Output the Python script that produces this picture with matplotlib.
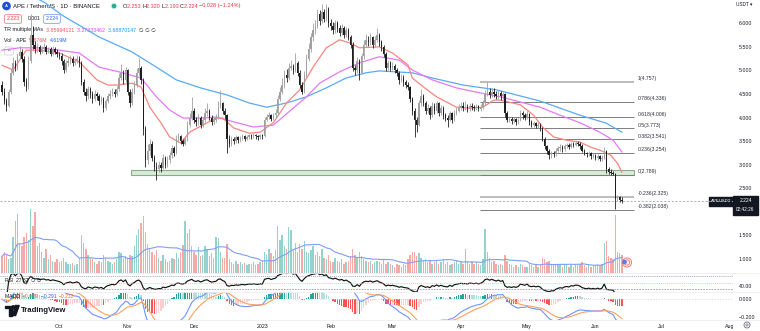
import numpy as np
import pandas as pd
import matplotlib
matplotlib.use("Agg")
import matplotlib.pyplot as plt
from matplotlib.patches import Rectangle, Circle, Polygon, FancyBboxPatch
from matplotlib.ticker import FuncFormatter

plt.rcParams['font.family'] = ['Liberation Sans', 'DejaVu Sans']

# ---------------- APE / USDT daily candles, 2022-09-05 .. 2023-06-13 ----------------
first_open = 4.70
closes = [
    # Sep 2022
    4.55, 4.35, 4.25, 4.55, 4.95, 5.15, 5.05, 5.30, 5.40, 5.25, 4.75, 4.65, 5.20, 5.75, 5.55, 5.45, 5.50, 5.40, 5.45, 5.50, 5.40, 5.45, 5.35, 5.45, 5.40, 5.35,
    # Oct
    5.30, 5.20, 5.00, 5.15, 5.20, 5.25, 5.15, 5.20, 5.25, 5.15, 4.75, 4.55, 4.45, 4.60, 4.50, 4.40, 4.50, 4.45, 4.35, 4.40, 4.20, 4.35, 4.45, 4.50, 4.55, 4.50, 4.60, 4.85, 4.95, 4.80, 5.00,
    # Nov
    4.55, 4.30, 4.55, 4.70, 4.95, 5.05, 4.80, 3.75, 3.10, 3.30, 3.45, 3.15, 2.95, 2.90, 3.00, 2.92, 3.15, 3.00, 3.10, 3.20, 3.35, 3.25, 3.55, 3.60, 3.50, 3.45, 3.55, 3.85, 4.00, 4.15,
    # Dec
    3.95, 3.90, 4.00, 3.85, 3.95, 4.10, 4.15, 4.00, 3.90, 3.95, 4.00, 4.25, 4.30, 4.15, 4.05, 3.55, 3.45, 3.55, 3.50, 3.58, 3.52, 3.56, 3.60, 3.55, 3.58, 3.62, 3.60, 3.63, 3.60, 3.58, 3.62,
    # Jan 2023
    3.60, 3.95, 4.02, 4.05, 3.98, 4.05, 4.10, 4.40, 4.55, 4.70, 4.90, 4.85, 5.05, 5.10, 5.00, 5.15, 4.95, 4.70, 4.55, 4.90, 5.25, 5.45, 5.70, 5.85, 5.95, 6.20, 6.05, 6.25, 6.10, 6.30, 6.00,
    # Feb
    5.95, 5.85, 6.00, 5.90, 5.80, 5.90, 5.75, 5.85, 5.70, 5.55, 5.05, 5.00, 5.20, 4.95, 5.30, 5.55, 5.65, 5.60, 5.70, 5.55, 5.65, 5.75, 5.60, 5.50, 5.35, 5.05, 5.15, 5.05,
    # Mar
    5.10, 5.00, 4.95, 4.80, 4.85, 4.75, 4.70, 4.65, 4.40, 4.15, 3.95, 3.85, 4.30, 4.45, 4.30, 4.15, 4.20, 4.05, 4.25, 4.15, 4.30, 4.10, 4.20, 4.05, 4.00, 3.95, 4.10, 3.95, 4.10, 4.15, 4.20,
    # Apr
    4.25, 4.20, 4.22, 4.18, 4.25, 4.22, 4.20, 4.24, 4.18, 4.22, 4.30, 4.50, 4.55, 4.48, 4.55, 4.50, 4.45, 4.52, 4.45, 4.50, 4.10, 3.95, 3.98, 3.92, 3.96, 3.90, 3.95, 4.10, 4.05, 4.00,
    # May
    4.08, 3.90, 3.85, 3.88, 3.82, 3.85, 3.78, 3.55, 3.40, 3.30, 3.20, 3.25, 3.22, 3.30, 3.35, 3.38, 3.34, 3.40, 3.42, 3.38, 3.44, 3.42, 3.46, 3.45, 3.40, 3.30, 3.25, 3.22, 3.24, 3.18, 3.20,
    # Jun
    3.15, 3.18, 3.12, 3.15, 3.30, 2.90, 2.85, 2.82, 2.80, 2.28, 2.31, 2.253, 2.224,
]
highs = [
    4.78, 4.62, 4.42, 4.60, 5.02, 5.28, 5.22, 5.38, 5.52, 5.45, 5.30, 4.85, 5.30, 6.20, 5.95, 5.62, 5.58, 5.55, 5.52, 5.58, 5.54, 5.50, 5.50, 5.52, 5.50, 5.46,
    5.40, 5.36, 5.25, 5.22, 5.28, 5.32, 5.30, 5.27, 5.33, 5.30, 5.20, 4.82, 4.62, 4.68, 4.65, 4.56, 4.58, 4.55, 4.50, 4.46, 4.44, 4.40, 4.52, 4.58, 4.62, 4.60, 4.68, 4.95, 5.13, 5.00, 5.08,
    5.04, 4.60, 4.62, 4.78, 5.05, 5.26, 5.10, 4.85, 3.82, 3.45, 3.55, 3.50, 3.20, 3.05, 3.08, 3.05, 3.22, 3.18, 3.18, 3.28, 3.42, 3.40, 3.62, 3.68, 3.64, 3.55, 3.60, 3.92, 4.10, 4.43,
    4.20, 4.02, 4.08, 4.04, 4.02, 4.20, 4.30, 4.18, 4.05, 4.02, 4.08, 4.35, 4.58, 4.34, 4.20, 4.08, 3.62, 3.60, 3.58, 3.63, 3.61, 3.60, 3.65, 3.63, 3.62, 3.66, 3.65, 3.67, 3.66, 3.63, 3.66,
    3.66, 4.02, 4.08, 4.12, 4.08, 4.10, 4.18, 4.48, 4.65, 4.85, 5.00, 5.02, 5.15, 5.22, 5.14, 5.36, 5.20, 5.00, 4.75, 4.98, 5.35, 5.58, 5.80, 6.00, 6.08, 6.30, 6.28, 6.42, 6.30, 6.40, 6.34,
    6.10, 6.02, 6.08, 6.05, 5.96, 5.98, 5.94, 5.92, 5.90, 5.75, 5.60, 5.12, 5.28, 5.25, 5.38, 5.65, 5.78, 5.72, 5.80, 5.74, 5.72, 5.90, 5.80, 5.65, 5.55, 5.40, 5.22, 5.20,
    5.18, 5.14, 5.05, 4.98, 4.92, 4.90, 4.80, 4.76, 4.68, 4.44, 4.20, 4.02, 4.38, 4.60, 4.50, 4.35, 4.28, 4.24, 4.32, 4.30, 4.36, 4.34, 4.26, 4.24, 4.10, 4.05, 4.15, 4.12, 4.16, 4.22, 4.28,
    4.32, 4.34, 4.36, 4.28, 4.30, 4.30, 4.27, 4.29, 4.27, 4.28, 4.38, 4.58, 4.757, 4.62, 4.62, 4.62, 4.56, 4.58, 4.56, 4.55, 4.52, 4.14, 4.04, 4.02, 4.02, 3.99, 4.00, 4.16, 4.14, 4.10,
    4.14, 4.10, 3.94, 3.93, 3.90, 3.90, 3.88, 3.80, 3.58, 3.42, 3.33, 3.30, 3.30, 3.35, 3.40, 3.43, 3.42, 3.44, 3.47, 3.46, 3.48, 3.48, 3.51, 3.50, 3.48, 3.43, 3.34, 3.28, 3.29, 3.27, 3.25,
    3.23, 3.23, 3.20, 3.20, 3.38, 3.32, 2.95, 2.90, 2.86, 2.82, 2.36, 2.34, 2.320,
]
lows = [
    4.48, 4.28, 4.15, 4.22, 4.50, 4.90, 4.98, 5.00, 5.25, 5.18, 4.68, 4.56, 4.60, 5.15, 5.45, 5.38, 5.40, 5.34, 5.36, 5.42, 5.35, 5.36, 5.30, 5.32, 5.35, 5.28,
    5.24, 5.12, 4.94, 4.96, 5.10, 5.14, 5.10, 5.11, 5.16, 5.08, 4.70, 4.48, 4.36, 4.40, 4.42, 4.30, 4.35, 4.38, 4.26, 4.28, 4.12, 4.16, 4.30, 4.40, 4.45, 4.44, 4.46, 4.56, 4.80, 4.72, 4.76,
    4.48, 4.22, 4.26, 4.50, 4.64, 4.88, 4.72, 3.62, 2.95, 3.02, 3.20, 3.08, 2.86, 2.67, 2.84, 2.85, 2.90, 2.92, 2.95, 3.04, 3.15, 3.18, 3.22, 3.48, 3.44, 3.40, 3.42, 3.50, 3.80, 3.95,
    3.88, 3.82, 3.85, 3.78, 3.80, 3.90, 4.04, 3.94, 3.84, 3.86, 3.90, 3.96, 4.20, 4.08, 3.98, 3.25, 3.38, 3.40, 3.44, 3.46, 3.47, 3.49, 3.52, 3.50, 3.52, 3.55, 3.55, 3.57, 3.55, 3.53, 3.55,
    3.55, 3.58, 3.92, 3.96, 3.92, 3.94, 4.00, 4.06, 4.35, 4.50, 4.62, 4.76, 4.80, 5.00, 4.92, 4.96, 4.88, 4.62, 4.50, 4.52, 4.86, 5.20, 5.40, 5.62, 5.78, 5.90, 5.96, 6.00, 6.02, 6.05, 5.92,
    5.85, 5.78, 5.80, 5.82, 5.72, 5.75, 5.68, 5.70, 5.64, 5.48, 4.98, 4.90, 4.95, 4.79, 4.92, 5.25, 5.50, 5.52, 5.55, 5.48, 5.50, 5.60, 5.52, 5.42, 5.28, 4.98, 5.00, 4.98,
    5.00, 4.94, 4.88, 4.72, 4.75, 4.68, 4.62, 4.58, 4.32, 4.06, 3.58, 3.70, 3.82, 4.25, 4.24, 4.08, 4.10, 3.98, 4.02, 4.08, 4.10, 4.04, 4.05, 3.98, 3.92, 3.80, 3.92, 3.88, 3.92, 4.06, 4.12,
    4.16, 4.15, 4.16, 4.12, 4.14, 4.17, 4.15, 4.16, 4.13, 4.15, 4.18, 4.27, 4.45, 4.42, 4.44, 4.44, 4.40, 4.40, 4.38, 4.40, 4.02, 3.90, 3.90, 3.86, 3.88, 3.84, 3.86, 3.92, 3.98, 3.95,
    3.96, 3.84, 3.80, 3.81, 3.77, 3.78, 3.72, 3.50, 3.33, 3.22, 3.12, 3.14, 3.16, 3.18, 3.26, 3.30, 3.28, 3.30, 3.36, 3.33, 3.35, 3.37, 3.39, 3.40, 3.34, 3.26, 3.20, 3.17, 3.18, 3.13, 3.14,
    3.10, 3.11, 3.07, 3.08, 3.12, 2.82, 2.80, 2.789, 2.79, 2.06, 2.22, 2.21, 2.193,
]
# daily volume, millions of APE
volumes = [
    5.5, 7.0, 6.0, 4.5, 5.0, 12.0, 17.0, 19.5, 10.0, 9.0, 12.0, 13.0, 11.0, 21.0, 15.5, 20.0, 9.0, 10.0, 7.0, 5.0, 8.0, 4.5, 6.0, 4.0, 3.5, 4.5,
    3.5, 4.0, 5.0, 3.5, 3.0, 2.8, 3.2, 2.6, 3.0, 4.5, 12.5, 10.0, 8.0, 6.0, 5.0, 4.5, 3.5, 3.0, 4.0, 3.5, 6.0, 5.0, 4.0, 3.5, 3.0, 3.5, 4.5, 7.0, 6.5, 5.0, 5.5,
    5.0, 6.0, 5.5, 9.0, 12.5, 14.5, 16.5, 18.6, 13.4, 9.5, 8.0, 7.0, 6.0, 7.5, 5.0, 4.0, 6.0, 4.5, 3.5, 4.0, 5.0, 4.5, 6.5, 5.0, 7.0, 9.3, 17.0, 13.0, 14.5, 9.0,
    7.0, 6.0, 8.5, 5.5, 6.0, 9.0, 8.0, 5.5, 6.5, 5.0, 12.0, 11.5, 7.0, 5.0, 5.0, 9.5, 4.5, 3.5, 3.0, 4.0, 3.0, 3.5, 2.8, 3.2, 2.5, 3.0, 2.8, 3.5, 2.5, 3.0, 3.5,
    4.0, 7.0, 6.0, 8.0, 6.5, 5.5, 7.5, 15.5, 11.0, 12.4, 9.0, 8.0, 15.0, 14.0, 8.0, 10.0, 7.0, 9.5, 8.0, 10.5, 7.0, 6.5, 7.5, 9.0, 6.0, 7.0, 5.5, 8.0, 5.0, 4.5, 6.0,
    4.0, 3.5, 5.0, 4.0, 3.5, 4.5, 3.0, 3.5, 4.0, 5.5, 8.0, 6.0, 5.0, 7.0, 5.5, 4.5, 4.0, 3.5, 4.0, 3.0, 3.5, 4.0, 3.5, 3.0, 4.5, 3.0, 3.5, 3.0,
    2.5, 2.0, 3.0, 2.5, 2.0, 3.0, 2.5, 4.5, 6.0, 7.0, 7.0, 5.5, 6.5, 5.0, 4.0, 4.5, 3.5, 4.0, 3.0, 3.5, 4.0, 3.0, 3.5, 4.5, 3.0, 3.5, 2.5, 3.0, 3.5, 4.0, 3.0,
    3.5, 3.0, 7.8, 3.5, 3.0, 4.0, 3.0, 3.5, 3.0, 2.5, 4.5, 14.5, 7.0, 5.0, 3.5, 4.0, 3.0, 2.5, 3.0, 2.5, 6.0, 4.0, 3.0, 2.5, 2.0, 2.5, 2.0, 3.0, 2.5, 2.0,
    2.0, 3.0, 2.5, 2.0, 2.5, 2.0, 2.5, 5.0, 4.5, 3.5, 4.0, 3.0, 2.5, 3.0, 2.5, 3.0, 2.0, 2.5, 3.0, 2.0, 2.5, 2.0, 3.0, 2.5, 3.0, 3.5, 2.5, 2.0, 2.5, 2.0, 2.5,
    2.5, 3.0, 2.5, 3.0, 10.0, 10.5, 5.5, 5.0, 4.5, 19.2, 7.0, 6.5, 5.876,
]

# "TR multiple MAs" study lines: (day index, value)
ma_fast_idx = [0, 5, 11, 17, 26, 35, 43, 48, 52, 59, 63, 67, 72, 76, 81, 85, 91, 97, 100, 105, 112, 117, 123, 129, 135, 141, 147, 153, 158, 162, 171, 177, 184, 186, 191, 197, 206, 212, 218, 223, 226, 235, 241, 245, 250, 256, 262, 267, 271, 276, 279, 281]
ma_fast_val = [5.11, 5.01, 5.43, 5.43, 5.37, 5.18, 4.80, 4.69, 4.69, 4.73, 4.65, 4.22, 3.89, 3.59, 3.46, 3.69, 3.84, 3.99, 3.99, 3.78, 3.67, 3.69, 3.89, 4.31, 4.59, 5.07, 5.48, 5.65, 5.58, 5.48, 5.50, 5.37, 5.12, 4.84, 4.65, 4.44, 4.22, 4.20, 4.22, 4.37, 4.37, 4.27, 4.05, 3.80, 3.59, 3.52, 3.48, 3.37, 3.31, 3.20, 3.03, 2.84]
ma_mid_idx = [0, 8, 17, 26, 35, 44, 53, 63, 70, 76, 82, 90, 97, 105, 114, 123, 131, 138, 144, 153, 162, 171, 180, 186, 195, 206, 217, 226, 235, 244, 253, 262, 271, 277, 281]
ma_mid_val = [5.43, 5.48, 5.48, 5.43, 5.37, 5.07, 4.97, 4.84, 4.44, 4.16, 3.99, 3.99, 4.01, 3.91, 3.80, 3.84, 4.16, 4.44, 4.73, 4.97, 5.16, 5.29, 5.22, 5.01, 4.80, 4.63, 4.52, 4.44, 4.33, 4.22, 4.05, 3.89, 3.69, 3.52, 3.27]
ma_slow_idx = [0, 19, 28, 44, 59, 70, 79, 90, 102, 112, 120, 129, 138, 147, 156, 165, 171, 186, 195, 209, 224, 244, 262, 274, 281]
ma_slow_val = [6.90, 6.45, 6.15, 5.71, 5.39, 5.07, 4.80, 4.63, 4.48, 4.31, 4.22, 4.31, 4.44, 4.63, 4.84, 4.95, 4.99, 4.95, 4.84, 4.69, 4.59, 4.35, 4.05, 3.88, 3.69]

# Fibonacci retracement drawn from the April high to the June low
fib_levels = [("1", 4.757), ("0.786", 4.336), ("0.618", 4.006), ("0.5", 3.773), ("0.382", 3.541),
              ("0.236", 3.254), ("0", 2.789), ("-0.236", 2.325), ("-0.382", 2.038)]
fib_span = (216.5, 286.5)
# support zone rectangle
zone_span = (58.5, 286.5)
zone_prices = (2.78, 2.885)

month_ticks = [26, 57, 87, 118, 149, 177, 208, 238, 269, 299, 330]
month_labels = ["Oct", "Nov", "Dec", "2023", "Feb", "Mar", "Apr", "May", "Jun", "Jul", "Aug"]
price_ticks = [1.0, 1.5, 2.5, 3.0, 3.5, 4.0, 4.5, 5.0, 5.5, 6.0]
last_price = 2.224

# ---------------- derived series ----------------
n = min(len(closes), len(highs), len(lows), len(volumes))
c = np.array(closes[:n]); h = np.array(highs[:n]); l = np.array(lows[:n])
v = np.array(volumes[:n])
o = np.concatenate([[first_open], c[:-1]])
x = np.arange(n)
up = c >= o

cs = pd.Series(c)
delta = cs.diff().fillna(0)
avg_gain = delta.clip(lower=0).ewm(alpha=1 / 14, adjust=False).mean()
avg_loss = (-delta).clip(lower=0).ewm(alpha=1 / 14, adjust=False).mean()
rsi = 100 - 100 / (1 + avg_gain / avg_loss.replace(0, 1e-9))

macd = cs.ewm(span=12, adjust=False).mean() - cs.ewm(span=26, adjust=False).mean()
signal = macd.ewm(span=9, adjust=False).mean()
hist = (macd - signal).values
vol_ma = pd.Series(v).rolling(20, min_periods=1).mean()

# ---------------- figure layout (pixel boxes) ----------------
W, H = 760, 331
fig = plt.figure(figsize=(W / 100, H / 100), dpi=100)
fig.patch.set_facecolor('white')


def box(x0, y0, x1, y1):
    return [x0 / W, 1 - y1 / H, (x1 - x0) / W, (y1 - y0) / H]


XR = 733
xlim = ((0 - 2) / 2.206, (XR - 2) / 2.206)
TXT = '#131722'
UP_C, DN_C = '#a0a0a0', '#1e1e1e'

ax = fig.add_axes(box(0, 0, XR, 273))
axv = ax.twinx()
ax.set_zorder(axv.get_zorder() + 1)
ax.patch.set_visible(False)
ax_rsi = fig.add_axes(box(0, 273, XR, 292))
ax_macd = fig.add_axes(box(0, 292, XR, 320))
ax_time = fig.add_axes(box(0, 320, XR, 331))

for a in (ax, axv, ax_rsi, ax_macd, ax_time):
    a.set_xlim(*xlim)
    for s in a.spines.values():
        s.set_visible(False)
    a.set_xticks([])

# ---- volume ----
vcol = np.where(up, '#93d3cd', '#f7a9a8')
axv.bar(x, v, width=0.62, color=vcol, linewidth=0)
axv.plot(x, vol_ma, color='#7f9ef7', lw=0.8)
axv.set_ylim(0, 272 * 0.33)
axv.set_yticks([])

# ---- price pane ----
ax.set_ylim(6 - (273 - 23.3) / 47.14, 6 + 23.3 / 47.14)
ax.add_patch(Rectangle((zone_span[0], zone_prices[0]), zone_span[1] - zone_span[0],
                       zone_prices[1] - zone_prices[0], facecolor='#d6ecd5',
                       edgecolor='#8fab8f', lw=0.8, zorder=2))
for lab, val in fib_levels:
    light = lab in ("1", "-0.236")
    ax.hlines(val, fib_span[0], fib_span[1], colors='#bdbdbd' if light else '#7c7c7c',
              lw=1.4 if light else 0.7, zorder=2.2)
    ax.text(fib_span[1] + 1.6, val + 0.015, f"{lab}({val:.3f})", fontsize=3.7,
            color='#2a2e39', ha='left', va='bottom', zorder=5)

ax.axhline(last_price, color='#a3a6ad', lw=0.6, ls=(0, (2.5, 2)), zorder=2.1)

ax.plot(ma_slow_idx, ma_slow_val, color='#5aaaf2', lw=0.9, zorder=3)
ax.plot(ma_mid_idx, ma_mid_val, color='#e27af5', lw=0.9, zorder=3)
ax.plot(ma_fast_idx, ma_fast_val, color='#f7867f', lw=0.9, zorder=3)

ccol = np.where(up, UP_C, DN_C)
ax.vlines(x, l, h, colors=ccol, lw=0.6, zorder=4)
body_lo = np.minimum(o, c)
body_h = np.maximum(np.abs(c - o), 0.012)
ax.bar(x, body_h, bottom=body_lo, width=0.62, color=ccol, linewidth=0, zorder=4.5)

ax.yaxis.tick_right()
ax.set_yticks(price_ticks)
ax.yaxis.set_major_formatter(FuncFormatter(lambda val, pos: f"{val:.3f}"))
ax.tick_params(axis='y', length=0, pad=4, labelsize=3.8, colors=TXT)

# ---- RSI pane ----
ax_rsi.set_ylim(21.9, 79.0)
ax_rsi.plot(x, rsi, color='#111111', lw=0.85)
ax_rsi.axhline(70, color='#8a8d96', lw=0.5, ls=(0, (1.5, 1.5)))
ax_rsi.axhline(50, color='#f5a3a3', lw=0.5, ls=(0, (1.5, 1.5)))
ax_rsi.axhline(30, color='#8a8d96', lw=0.5, ls=(0, (2.5, 1.5)))
ax_rsi.yaxis.tick_right()
ax_rsi.set_yticks([40])
ax_rsi.yaxis.set_major_formatter(FuncFormatter(lambda val, pos: f"{val:.2f}"))
ax_rsi.tick_params(axis='y', length=0, pad=4, labelsize=3.8, colors=TXT)

# ---- MACD pane ----
ax_macd.set_ylim(-0.238, 0.084)
hcol = []
for i, hv in enumerate(hist):
    prev = hist[i - 1] if i > 0 else hv
    if hv >= 0:
        hcol.append('#26a69a' if hv >= prev else '#b2dfdb')
    else:
        hcol.append('#ff5252' if hv < prev else '#ffcdd2')
ax_macd.bar(x, hist, width=0.62, color=hcol, linewidth=0)
ax_macd.plot(x, macd, color='#6f93ff', lw=0.8)
ax_macd.plot(x, signal, color='#ffa05a', lw=0.8)
ax_macd.axhline(0, color='#d6d8de', lw=0.5, ls=(0, (2, 2)))
ax_macd.yaxis.tick_right()
ax_macd.set_yticks([0.0, -0.2])
ax_macd.yaxis.set_major_formatter(FuncFormatter(lambda val, pos: f"{val:.3f}".replace('-', '\u2212')))
ax_macd.tick_params(axis='y', length=0, pad=4, labelsize=3.8, colors=TXT)

# ---- time scale ----
ax_time.set_ylim(0, 1)
ax_time.set_yticks([])
ax_time.patch.set_visible(False)
for t, lab in zip(month_ticks, month_labels):
    ax_time.text(t, 0.45, lab, fontsize=3.8, color=TXT, ha='center', va='center', clip_on=True)

# ---------------- overlay in pixel coordinates ----------------
ov = fig.add_axes([0, 0, 1, 1])
ov.set_xlim(0, W)
ov.set_ylim(H, 0)
ov.axis('off')
ov.patch.set_visible(False)

for yy in (273, 292, 320):
    ov.plot([0, W], [yy, yy], color='#eceef2', lw=0.6)

renderer = fig.canvas.get_renderer()


def chain(x0, y0, parts, size, weight='normal'):
    xx = x0
    for s, col in parts:
        t = ov.text(xx, y0, s, fontsize=size, color=col, ha='left', va='center', fontweight=weight)
        bb = t.get_window_extent(renderer)
        xx += bb.width
    return xx


# symbol line
ov.add_patch(Circle((6.5, 6), 3.6, color='#1a4ed8'))
ov.text(6.5, 6.2, 'A', fontsize=3.0, color='white', ha='center', va='center', fontweight='bold')
ov.text(13, 6, 'APE / TetherUS \u00b7 1D \u00b7 BINANCE', fontsize=4.3, color=TXT, ha='left', va='center')
ov.add_patch(Circle((114, 6), 2.6, color='#c8efe6'))
ov.add_patch(Circle((114, 6), 1.5, color='#22ab94'))
RED = '#f23645'
chain(123, 6, [('O', TXT), ('2.253 ', RED), ('H', TXT), ('2.320 ', RED), ('L', TXT), ('2.193 ', RED),
               ('C', TXT), ('2.224 ', RED), ('\u22120.028 (\u22121.24%)', RED)], 4.0)

# bid / spread / ask
ov.text(13, 19, '2.223', fontsize=3.8, color=RED, ha='center', va='center',
        bbox=dict(boxstyle='round,pad=0.35,rounding_size=0.3', fc='white', ec='#f77c80', lw=0.6))
ov.text(34, 19, '0.001', fontsize=3.6, color=TXT, ha='center', va='center')
ov.text(52, 19, '2.224', fontsize=3.8, color='#2962ff', ha='center', va='center',
        bbox=dict(boxstyle='round,pad=0.35,rounding_size=0.3', fc='white', ec='#7f9ef7', lw=0.6))

chain(4, 30, [('TR multiple MAs  ', TXT), ('3.85994121  ', '#f7525f'), ('3.27333462  ', '#e040fb'),
              ('3.68870147  ', '#2196f3'), ('\u2205 \u2205 \u2205', TXT)], 3.8)
chain(4, 41, [('Vol \u00b7 APE  ', TXT), ('5.876M  ', '#f7525f'), ('4.619M', '#2962ff')], 3.8)
ov.add_patch(FancyBboxPatch((4.5, 47), 9, 8, boxstyle='round,pad=0,rounding_size=1.5',
                            fc='white', ec='#d1d4dc', lw=0.6))
ov.text(9, 51.5, '^', fontsize=4, color=TXT, ha='center', va='center')

# indicator legends
chain(5, 281, [('RSI  ', TXT), ('27.82  ', '#111111'), ('\u2205 \u2205', TXT)], 3.6)
chain(5, 296.5, [('MACD  ', TXT), ('\u22120.079  ', '#ff5252'), ('\u22120.291  ', '#2962ff'),
                 ('\u22120.212', '#ff6d00')], 3.6)

# TradingView mark
ov.add_patch(Polygon([(4.5, 305.5), (11.5, 305.5), (11.5, 315.5), (8.6, 315.5), (8.6, 308.3), (4.5, 308.3)],
                     closed=True, color=TXT))
ov.add_patch(Circle((13.4, 307.3), 1.5, color=TXT))
ov.add_patch(Polygon([(15.6, 305.5), (19.2, 305.5), (15.6, 315.5), (12.2, 315.5)], closed=True, color=TXT))
ov.text(21, 310.5, 'TradingView', fontsize=5.6, color=TXT, ha='left', va='center', fontweight='bold')

# volume event marker
ov.add_patch(Circle((627, 262.5), 4.6, fc='#fde4e4', ec='#f26f6f', lw=0.6))
ov.add_patch(Circle((627, 262.5), 2.6, fc='none', ec='#f26f6f', lw=0.5))
ov.add_patch(Circle((624.5, 262), 1.6, color='#4f7ff0'))

# right-hand scale tags
ov.text(744, 5, 'USDT \u25be', fontsize=3.4, color=TXT, ha='center', va='center')
ov.add_patch(Rectangle((709, 197), 24, 9, color='#131722'))
ov.text(721, 201.5, 'APEUSDT', fontsize=3.1, color='white', ha='center', va='center')
ov.add_patch(Rectangle((733, 196), 25, 18.5, color='#131722'))
ov.text(745.5, 200.5, '2.224', fontsize=3.6, color='white', ha='center', va='center')
ov.text(745.5, 209.5, '02:42:26', fontsize=3.4, color='white', ha='center', va='center')

# settings gear
ov.add_patch(Circle((747, 325), 3.0, fc='none', ec='#6a6d78', lw=0.6))
ov.add_patch(Circle((747, 325), 1.1, fc='none', ec='#6a6d78', lw=0.5))

fig.savefig('out.png', dpi=100, facecolor='white')
